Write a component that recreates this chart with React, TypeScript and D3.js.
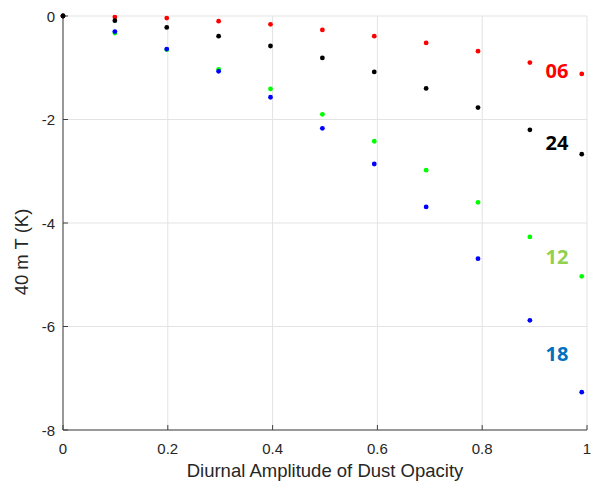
import React from "react";
import * as d3 from "d3";

const amplitudes = [0, 0.099, 0.198, 0.297, 0.396, 0.495, 0.594, 0.693, 0.792, 0.891, 0.99];
const series06 = [0, -0.02, -0.04, -0.1, -0.16, -0.27, -0.39, -0.52, -0.68, -0.9, -1.12];
const series24 = [0, -0.09, -0.22, -0.39, -0.58, -0.81, -1.08, -1.4, -1.77, -2.2, -2.67];
const series12 = [0, -0.33, -0.65, -1.03, -1.41, -1.9, -2.42, -2.98, -3.6, -4.27, -5.03];
const series18 = [0, -0.3, -0.64, -1.07, -1.57, -2.17, -2.86, -3.69, -4.69, -5.88, -7.27];
const xTicks = [0, 0.2, 0.4, 0.6, 0.8, 1];
const yTicks = [0, -2, -4, -6, -8];

const seriesList = [
  { name: "12", values: series12, dot: "#00ff00", label: "#92d050", labelY: -4.66 },
  { name: "18", values: series18, dot: "#0000ff", label: "#0070c0", labelY: -6.53 },
  { name: "06", values: series06, dot: "#ff0000", label: "#ff0000", labelY: -1.06 },
  { name: "24", values: series24, dot: "#000000", label: "#000000", labelY: -2.46 },
];

const W = 592;
const H = 483;
const left = 63;
const right = 587;
const top = 16;
const bottom = 430;

export default function App() {
  const x = d3.scaleLinear().domain([0, 1]).range([left, right]);
  const y = d3.scaleLinear().domain([-8, 0]).range([bottom, top]);
  const font = "'Liberation Sans', Arial, sans-serif";
  return (
    <svg width={W} height={H} style={{ position: "absolute", left: 0, top: 0, background: "#fff" }}>
      <rect x={0} y={0} width={W} height={H} fill="#fff" />
      {xTicks.map((t) => (
        <line key={"gx" + t} x1={x(t)} x2={x(t)} y1={top} y2={bottom} stroke="#e3e3e3" strokeWidth={1} />
      ))}
      {yTicks.map((t) => (
        <line key={"gy" + t} x1={left} x2={right} y1={y(t)} y2={y(t)} stroke="#e3e3e3" strokeWidth={1} />
      ))}
      <line x1={left} x2={left} y1={top} y2={bottom} stroke="#404040" strokeWidth={1} />
      <line x1={left} x2={right} y1={bottom} y2={bottom} stroke="#404040" strokeWidth={1} />
      {xTicks.map((t) => (
        <line key={"tx" + t} x1={x(t)} x2={x(t)} y1={bottom} y2={bottom - 5} stroke="#404040" strokeWidth={1} />
      ))}
      {yTicks.map((t) => (
        <line key={"ty" + t} x1={left} x2={left + 5} y1={y(t)} y2={y(t)} stroke="#404040" strokeWidth={1} />
      ))}
      {xTicks.map((t) => (
        <text key={"lx" + t} x={x(t)} y={454} textAnchor="middle" fontFamily={font} fontSize={15} fill="#262626">
          {String(t)}
        </text>
      ))}
      {yTicks.map((t) => (
        <text key={"ly" + t} x={55} y={y(t) + 5.5} textAnchor="end" fontFamily={font} fontSize={15} fill="#262626">
          {String(t)}
        </text>
      ))}
      <text x={(left + right) / 2} y={477} textAnchor="middle" fontFamily={font} fontSize={18.5} fill="#262626">
        Diurnal Amplitude of Dust Opacity
      </text>
      <text transform={`translate(28,252) rotate(-90)`} textAnchor="middle" fontFamily={font} fontSize={18.5} fill="#262626">
        40 m T (K)
      </text>
      {seriesList.map((s) => (
        <g key={s.name}>
          {s.values.map((v, i) => (
            <circle key={i} cx={x(amplitudes[i])} cy={y(v)} r={2.4} fill={s.dot} />
          ))}
        </g>
      ))}
      {seriesList.map((s) => (
        <text key={"t" + s.name} x={557} y={y(s.labelY) + 7} textAnchor="middle" fontFamily="'Open Sans', sans-serif" fontWeight="bold" fontSize={20} fill={s.label}>
          {s.name}
        </text>
      ))}
    </svg>
  );
}
